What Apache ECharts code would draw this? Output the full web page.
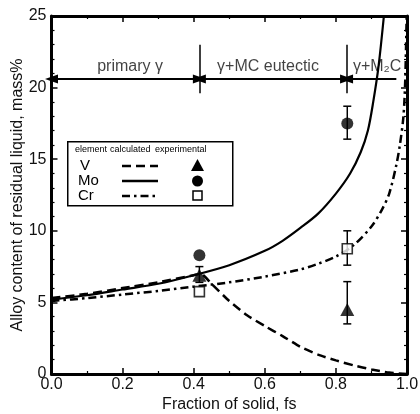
<!DOCTYPE html>
<html><head><meta charset="utf-8">
<script src="https://cdn.jsdelivr.net/npm/echarts@6/dist/echarts.min.js"></script>
<style>html,body{margin:0;padding:0;background:#fff}#c{width:420px;height:414px}</style>
</head><body><div id="c"></div>
<script>
// Calculated curves
const vFs  = [0,0.1,0.2,0.3,0.4,0.42,0.45,0.5,0.55,0.6,0.65,0.7,0.75,0.8,0.85,0.9,0.95,1.0];
const vCalc= [5.3,5.6,6.0,6.4,6.9,7.0,6.3,5.1,4.1,3.35,2.65,1.9,1.35,0.95,0.6,0.32,0.1,0];
const moFs = [0,0.1,0.2,0.3,0.4,0.5,0.6,0.65,0.7,0.75,0.8,0.84,0.87,0.89,0.905,0.92,0.935];
const moCalc=[5.2,5.5,5.9,6.3,6.9,7.6,8.6,9.3,10.2,11.2,12.6,14.0,15.5,17.0,19.0,21.5,25];
const crFs = [0,0.1,0.2,0.3,0.4,0.5,0.6,0.7,0.75,0.8,0.85,0.9,0.93,0.95,0.97,0.98,0.99,0.995,0.999];
const crCalc=[5.1,5.3,5.55,5.8,6.1,6.4,6.8,7.3,7.7,8.2,9.0,10.3,11.5,12.6,14.6,16.0,18.0,20.5,25];
// Experimental: fs, value, low, high
const expFs = [0.416, 0.832];
const vExp  = [6.9, 4.5];  const vLow=[6.4,3.5];  const vHigh=[7.5,6.45];
const moExp = [8.3, 17.5]; const moLow=[8.3,16.4]; const moHigh=[8.3,18.7];
const crExp = [5.75, 8.75]; const crLow=[5.75,7.6]; const crHigh=[5.75,10.0];
// Regions
const regionBounds = [0, 0.416, 0.830, 0.97];
const regionLabels = ['primary γ', 'γ+MC eutectic', 'γ+M₂C'];
const regionLabelFs = [0.221, 0.609, 0.916];
const arrowLevel = 20.6, labelLevel = 21.45, sepLow = 19.6, sepHigh = 23.0;

const pairs = (xs, ys) => xs.map((x,i)=>[x, ys[i]]);
const errData = (ys, lo, hi) => expFs.map((x,i)=>[x, ys[i], lo[i], hi[i]]);

function errBar(params, api){
  const x = api.value(0), lo = api.value(2), hi = api.value(3);
  if (lo === hi) return null;
  const p1 = api.coord([x, lo]), p2 = api.coord([x, hi]);
  const w = 4;
  const st = {stroke:'#000', lineWidth:1.5};
  return {type:'group', children:[
    {type:'line', shape:{x1:p1[0],y1:p1[1],x2:p2[0],y2:p2[1]}, style:st},
    {type:'line', shape:{x1:p1[0]-w,y1:p1[1],x2:p1[0]+w,y2:p1[1]}, style:st},
    {type:'line', shape:{x1:p2[0]-w,y1:p2[1],x2:p2[0]+w,y2:p2[1]}, style:st}
  ]};
}

const font = 'Liberation Sans, Arial, sans-serif';
const chart = echarts.init(document.getElementById('c'), null, {renderer:'canvas'});
const axisCommon = {
  axisLine:{show:true, onZero:false, lineStyle:{color:'#000', width:3}},
  axisTick:{show:true, inside:true, length:6, lineStyle:{color:'#000', width:1.5}},
  splitLine:{show:false}
};
const xMinor = {minorTick:{show:true, splitNumber:2, length:3, lineStyle:{color:'#000', width:1.2}}};
const yMinor = {minorTick:{show:true, splitNumber:5, length:3, lineStyle:{color:'#000', width:1.2}}};
const option = {
  animation:false,
  backgroundColor:'#fff',
  grid:{left:51.5, right:13, top:16, bottom:40, containLabel:false, outerBoundsMode:'none'},
  xAxis:[
    Object.assign({type:'value', min:0, max:1, interval:0.2, position:'bottom',
      axisLabel:{color:'#111', fontSize:16, fontFamily:font, margin:3, formatter:v=>v.toFixed(1)},
      name:'Fraction of solid, fs', nameLocation:'middle', nameGap:23, nameMoveOverlap:false,
      nameTextStyle:{color:'#111', fontSize:16, fontFamily:font}}, axisCommon, xMinor),
    Object.assign({type:'value', min:0, max:1, interval:0.2, position:'top', axisLabel:{show:false}}, axisCommon, xMinor)
  ],
  yAxis:[
    Object.assign({type:'value', min:0, max:25, interval:5, position:'left',
      axisLabel:{color:'#111', fontSize:16, fontFamily:font, margin:5},
      name:'Alloy content of residual liquid, mass%', nameLocation:'middle', nameGap:26, nameMoveOverlap:false,
      nameTextStyle:{color:'#111', fontSize:16, fontFamily:font}}, axisCommon, yMinor),
    Object.assign({type:'value', min:0, max:25, interval:5, position:'right', axisLabel:{show:false}}, axisCommon, yMinor)
  ],
  series:[
    {type:'line', data:pairs(vFs, vCalc), showSymbol:false, smooth:0.2, clip:true,
      lineStyle:{color:'#000', width:2.5, type:[9,5]}},
    {type:'line', data:pairs(moFs, moCalc), showSymbol:false, smooth:0.3, clip:true,
      lineStyle:{color:'#000', width:2.2}},
    {type:'line', data:pairs(crFs, crCalc), showSymbol:false, smooth:0.3, clip:true,
      lineStyle:{color:'#000', width:2.5, type:[8,4,2.5,4]}},
    {type:'custom', renderItem:errBar, data:errData(vExp, vLow, vHigh), z:3},
    {type:'custom', renderItem:errBar, data:errData(moExp, moLow, moHigh), z:3},
    {type:'custom', renderItem:errBar, data:errData(crExp, crLow, crHigh), z:3},
    {type:'scatter', data:pairs(expFs, vExp), symbol:'triangle', symbolSize:[14,13],
      itemStyle:{color:'#000'}, z:4},
    {type:'scatter', data:pairs(expFs, moExp), symbol:'circle', symbolSize:12,
      itemStyle:{color:'#000'}, z:4},
    {type:'scatter', data:pairs(expFs, crExp), symbol:'rect', symbolSize:10,
      itemStyle:{color:'#fff', borderColor:'#000', borderWidth:1.6}, z:4},
    // region annotations
    {type:'scatter', data:regionLabelFs.map((x,i)=>[x, labelLevel, regionLabels[i]]),
      symbolSize:0, silent:true,
      label:{show:true, position:'inside', formatter:p=>p.data[2], color:'#111', fontSize:16, fontFamily:font},
      markLine:{silent:true, animation:false, symbol:['none','none'],
        lineStyle:{color:'#000', width:2, type:'solid'}, label:{show:false},
        data:[
          [{coord:[regionBounds[0], arrowLevel], symbol:'triangle', symbolSize:[9,13]},
           {coord:[regionBounds[1], arrowLevel], symbol:'triangle', symbolSize:[9,13]}],
          [{coord:[regionBounds[1], arrowLevel], symbol:'triangle', symbolSize:[9,13]},
           {coord:[regionBounds[2], arrowLevel], symbol:'triangle', symbolSize:[9,13]}],
          [{coord:[regionBounds[2], arrowLevel], symbol:'triangle', symbolSize:[9,13]},
           {coord:[regionBounds[3], arrowLevel], symbol:'none'}],
          [{coord:[regionBounds[1], sepLow], symbol:'none', lineStyle:{width:1.5}},
           {coord:[regionBounds[1], sepHigh], symbol:'none'}],
          [{coord:[regionBounds[2], sepLow], symbol:'none', lineStyle:{width:1.5}},
           {coord:[regionBounds[2], sepHigh], symbol:'none'}]
        ]}}
  ],
  graphic:[
    {type:'rect', left:67, top:141, shape:{width:165, height:64}, style:{fill:'#fff', stroke:'#000', lineWidth:1.5}, z:10},
    {type:'text', left:75, top:145, style:{text:'element', fontSize:9, fontFamily:font, fill:'#000'}, z:11},
    {type:'text', left:110, top:145, style:{text:'calculated', fontSize:9, fontFamily:font, fill:'#000'}, z:11},
    {type:'text', left:155, top:145, style:{text:'experimental', fontSize:9, fontFamily:font, fill:'#000'}, z:11},
    {type:'text', left:80, top:158, style:{text:'V', fontSize:15, fontFamily:font, fill:'#000'}, z:11},
    {type:'text', left:78, top:173, style:{text:'Mo', fontSize:15, fontFamily:font, fill:'#000'}, z:11},
    {type:'text', left:78, top:188, style:{text:'Cr', fontSize:15, fontFamily:font, fill:'#000'}, z:11},
    {type:'line', shape:{x1:122,y1:166,x2:158,y2:166}, style:{stroke:'#000', lineWidth:2.5, lineDash:[9,5]}, z:11},
    {type:'line', shape:{x1:122,y1:181,x2:158,y2:181}, style:{stroke:'#000', lineWidth:2.5}, z:11},
    {type:'line', shape:{x1:122,y1:196,x2:158,y2:196}, style:{stroke:'#000', lineWidth:2.5, lineDash:[8,4,2.5,4]}, z:11},
    {type:'polygon', shape:{points:[[197.5,159],[191,171],[204,171]]}, style:{fill:'#000'}, z:11},
    {type:'circle', shape:{cx:197.5, cy:181, r:5.5}, style:{fill:'#000'}, z:11},
    {type:'rect', shape:{x:193, y:191, width:9, height:9}, style:{fill:'#fff', stroke:'#000', lineWidth:1.5}, z:11}
  ]
};
chart.setOption(option);
</script></body></html>
